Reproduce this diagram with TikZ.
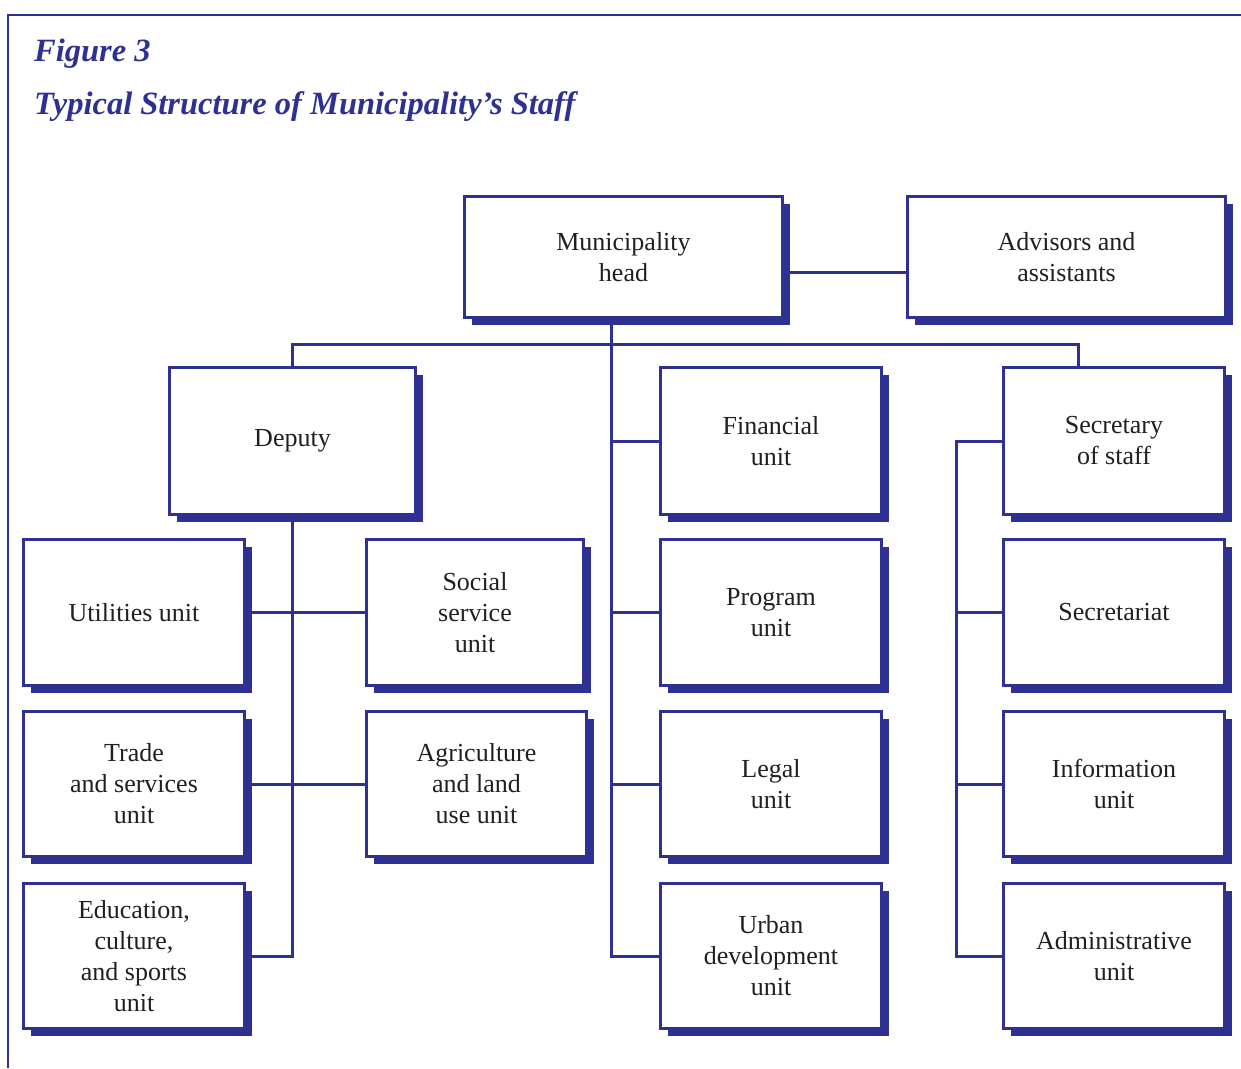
\documentclass[tikz,border=0pt]{standalone}
\usepackage{fontspec}
\setmainfont{Liberation Serif}
\usetikzlibrary{shadows}
\definecolor{navy}{RGB}{46,49,146}
\definecolor{ink}{RGB}{35,31,32}
\begin{document}
\begin{tikzpicture}[x=1pt,y=-1pt,
  box/.style={draw=navy, line width=3.2pt, fill=white, align=center, text=ink,
    font=\fontsize{26}{31}\selectfont, inner sep=0pt,
    minimum width=221pt, minimum height=146pt,
    general shadow={fill=navy, shadow xshift=7.5pt, shadow yshift=-7.5pt}},
  link/.style={draw=navy, line width=3pt, line join=miter},
  frame/.style={draw=navy, line width=2.7pt},
  title/.style={anchor=base west, inner sep=0pt, text=navy,
    font=\fontsize{32.5}{38}\selectfont\bfseries\itshape}]
\useasboundingbox (0,0) rectangle (1241,1068);
% frame
\draw[frame] (8,1068) -- (8,15) -- (1241,15);
\node[title] (t1) at (34,61) {Figure 3};
\node[title] (t2) at (34,114) {Typical Structure of Municipality’s Staff};
% boxes
\node[box, minimum width=318pt, minimum height=121pt] (head) at (623.5,257) {Municipality\\head};
\node[box, minimum width=318pt, minimum height=121pt] (adv) at (1066.5,257) {Advisors and\\assistants};
\node[box, minimum width=246pt, minimum height=147pt] (deputy) at (292.5,441) {Deputy};
\node[box, minimum height=147pt] (fin) at (771,441) {Financial\\unit};
\node[box, minimum height=147pt] (secr) at (1114,441) {Secretary\\of staff};
\node[box] (util) at (134,612.5) {Utilities unit};
\node[box, minimum width=217pt] (social) at (475,612.5) {Social\\service\\unit};
\node[box] (prog) at (771,612.5) {Program\\unit};
\node[box] (sect) at (1114,612.5) {Secretariat};
\node[box, minimum height=145pt] (trade) at (134,784) {Trade\\and services\\unit};
\node[box, minimum width=220pt, minimum height=145pt] (agri) at (476.5,784) {Agriculture\\and land\\use unit};
\node[box, minimum height=145pt] (legal) at (771,784) {Legal\\unit};
\node[box, minimum height=145pt] (info) at (1114,784) {Information\\unit};
\node[box, minimum height=145pt] (edu) at (134,956) {Education,\\culture,\\and sports\\unit};
\node[box, minimum height=145pt] (urban) at (771,956) {Urban\\development\\unit};
\node[box, minimum height=145pt] (admin) at (1114,956) {Administrative\\unit};
% helper coordinates
\coordinate (trunk) at (611,344);
\coordinate (rdrop) at (1078,344);
\coordinate (rbus) at (956,441);
% connectors
\draw[link] ([yshift=-15pt]head.east) -- ([yshift=-15pt]head.east -| adv.west);
\draw[link] (head.south -| trunk) -- (trunk |- urban.west) -- (urban.west);
\draw[link] (deputy.north) |- (rdrop) -- (rdrop |- secr.north);
\draw[link] (trunk |- fin.west) -- (fin.west);
\draw[link] (trunk |- prog.west) -- (prog.west);
\draw[link] (trunk |- legal.west) -- (legal.west);
\draw[link] (deputy.south) |- (edu.east);
\draw[link] (util.east) -- (social.west);
\draw[link] (trade.east) -- (agri.west);
\draw[link] (secr.west) -- (rbus) -- (rbus |- admin.west) -- (admin.west);
\draw[link] (rbus |- sect.west) -- (sect.west);
\draw[link] (rbus |- info.west) -- (info.west);
\end{tikzpicture}
\end{document}
